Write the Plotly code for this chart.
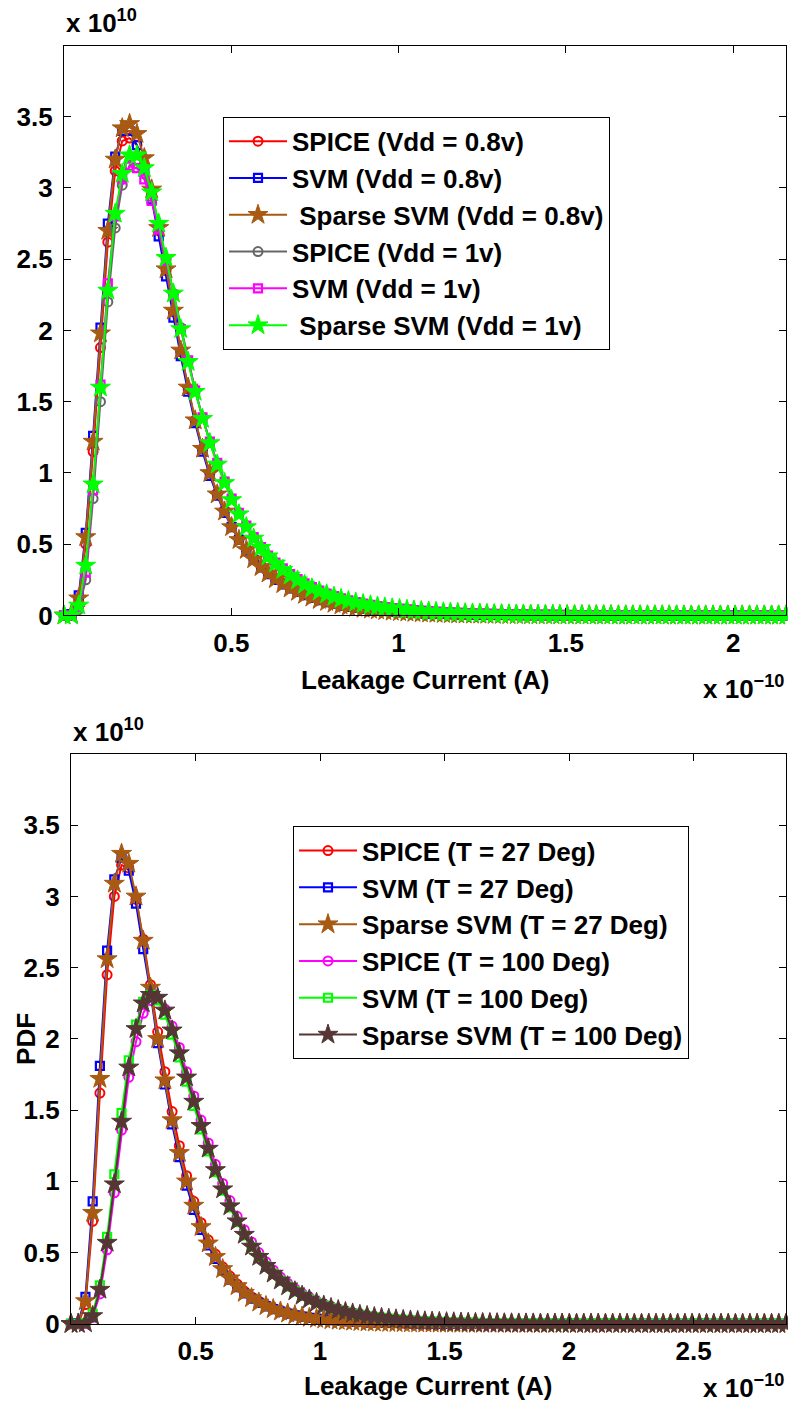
import plotly.graph_objects as go

W, H = 788, 1418

# ---------------- data (x in 1e-10 A, y in 1e10) ----------------
top_x = [0.000, 0.022, 0.044, 0.065, 0.087, 0.109, 0.131, 0.153, 0.174, 0.196,
         0.218, 0.240, 0.262, 0.283, 0.305, 0.327, 0.349, 0.371, 0.392, 0.414,
         0.436, 0.458, 0.480, 0.501, 0.523, 0.545, 0.567, 0.589, 0.610, 0.632,
         0.654, 0.676, 0.698, 0.719, 0.741, 0.763, 0.785, 0.807, 0.828, 0.850,
         0.872, 0.894, 0.916, 0.937, 0.959, 0.981, 1.003, 1.025, 1.046, 1.068,
         1.090, 1.112, 1.134, 1.155, 1.177, 1.199, 1.221, 1.243, 1.264, 1.286,
         1.308, 1.330, 1.352, 1.373, 1.395, 1.417, 1.439, 1.461, 1.482, 1.504,
         1.526, 1.548, 1.570, 1.591, 1.613, 1.635, 1.657, 1.679, 1.700, 1.722,
         1.744, 1.766, 1.788, 1.809, 1.831, 1.853, 1.875, 1.897, 1.918, 1.940,
         1.962, 1.984, 2.006, 2.027, 2.049, 2.071, 2.093, 2.115, 2.136, 2.158]

spice_08 = [0.000, 0.000, 0.100, 0.500, 1.150, 1.880, 2.620, 3.120, 3.330, 3.350,
            3.300, 3.160, 2.960, 2.700, 2.420, 2.130, 1.850, 1.590, 1.370, 1.170,
            1.000, 0.860, 0.740, 0.630, 0.540, 0.465, 0.400, 0.345, 0.300, 0.260,
            0.225, 0.195, 0.170, 0.148, 0.128, 0.111, 0.096, 0.083, 0.072, 0.063,
            0.055, 0.048, 0.042, 0.036, 0.032, 0.028, 0.024, 0.021, 0.018, 0.016,
            0.014, 0.012, 0.011, 0.010, 0.008, 0.007, 0.006, 0.006, 0.005, 0.004,
            0.004, 0.003, 0.003, 0.003, 0.002, 0.002, 0.002, 0.002, 0.001, 0.001,
            0.001, 0.001, 0.001, 0.001, 0.001, 0.001, 0.000, 0.000, 0.000, 0.000,
            0.000, 0.000, 0.000, 0.000, 0.000, 0.000, 0.000, 0.000, 0.000, 0.000,
            0.000, 0.000, 0.000, 0.000, 0.000, 0.000, 0.000, 0.000, 0.000, 0.000]
svm_08 = [0.000, 0.010, 0.140, 0.580, 1.260, 2.020, 2.750, 3.220, 3.400, 3.400,
          3.300, 3.130, 2.920, 2.660, 2.380, 2.090, 1.820, 1.570, 1.350, 1.150,
          0.980, 0.840, 0.720, 0.620, 0.530, 0.455, 0.390, 0.337, 0.290, 0.250,
          0.218, 0.190, 0.165, 0.143, 0.124, 0.108, 0.093, 0.081, 0.070, 0.061,
          0.053, 0.046, 0.040, 0.035, 0.031, 0.027, 0.023, 0.020, 0.018, 0.015,
          0.013, 0.012, 0.010, 0.009, 0.008, 0.007, 0.006, 0.005, 0.005, 0.004,
          0.004, 0.003, 0.003, 0.002, 0.002, 0.002, 0.002, 0.001, 0.001, 0.001,
          0.001, 0.001, 0.001, 0.001, 0.001, 0.000, 0.000, 0.000, 0.000, 0.000,
          0.000, 0.000, 0.000, 0.000, 0.000, 0.000, 0.000, 0.000, 0.000, 0.000,
          0.000, 0.000, 0.000, 0.000, 0.000, 0.000, 0.000, 0.000, 0.000, 0.000]
sparse_08 = [0.000, 0.010, 0.120, 0.550, 1.220, 1.980, 2.700, 3.200, 3.420, 3.450,
             3.380, 3.210, 2.990, 2.720, 2.430, 2.140, 1.860, 1.600, 1.370, 1.170,
             1.000, 0.850, 0.730, 0.620, 0.530, 0.460, 0.395, 0.340, 0.295, 0.255,
             0.220, 0.190, 0.166, 0.145, 0.126, 0.109, 0.095, 0.082, 0.071, 0.062,
             0.054, 0.047, 0.041, 0.036, 0.031, 0.027, 0.024, 0.021, 0.018, 0.016,
             0.014, 0.012, 0.011, 0.009, 0.008, 0.007, 0.006, 0.006, 0.005, 0.004,
             0.004, 0.003, 0.003, 0.003, 0.002, 0.002, 0.002, 0.002, 0.001, 0.001,
             0.001, 0.001, 0.001, 0.001, 0.001, 0.001, 0.000, 0.000, 0.000, 0.000,
             0.000, 0.000, 0.000, 0.000, 0.000, 0.000, 0.000, 0.000, 0.000, 0.000,
             0.000, 0.000, 0.000, 0.000, 0.000, 0.000, 0.000, 0.000, 0.000, 0.000]
spice_1 = [0.000, 0.000, 0.040, 0.250, 0.820, 1.500, 2.200, 2.720, 3.020, 3.160,
           3.170, 3.100, 2.940, 2.730, 2.500, 2.260, 2.020, 1.790, 1.580, 1.390,
           1.220, 1.070, 0.940, 0.820, 0.720, 0.630, 0.550, 0.480, 0.420, 0.370,
           0.325, 0.285, 0.250, 0.220, 0.194, 0.171, 0.151, 0.133, 0.118, 0.104,
           0.092, 0.082, 0.073, 0.065, 0.058, 0.051, 0.046, 0.041, 0.036, 0.032,
           0.029, 0.026, 0.023, 0.021, 0.019, 0.017, 0.015, 0.013, 0.012, 0.011,
           0.010, 0.009, 0.008, 0.007, 0.006, 0.006, 0.005, 0.005, 0.004, 0.004,
           0.003, 0.003, 0.003, 0.002, 0.002, 0.002, 0.002, 0.002, 0.001, 0.001,
           0.001, 0.001, 0.001, 0.001, 0.001, 0.001, 0.001, 0.000, 0.000, 0.000,
           0.000, 0.000, 0.000, 0.000, 0.000, 0.000, 0.000, 0.000, 0.000, 0.000]
svm_1 = [0.000, 0.000, 0.060, 0.300, 0.880, 1.620, 2.330, 2.800, 3.060, 3.150,
         3.140, 3.060, 2.910, 2.710, 2.490, 2.250, 2.010, 1.790, 1.580, 1.390,
         1.220, 1.070, 0.940, 0.820, 0.720, 0.630, 0.550, 0.480, 0.420, 0.370,
         0.330, 0.290, 0.255, 0.225, 0.198, 0.175, 0.154, 0.136, 0.120, 0.106,
         0.094, 0.083, 0.074, 0.066, 0.059, 0.052, 0.047, 0.042, 0.037, 0.033,
         0.030, 0.027, 0.024, 0.021, 0.019, 0.017, 0.015, 0.014, 0.012, 0.011,
         0.010, 0.009, 0.008, 0.007, 0.007, 0.006, 0.005, 0.005, 0.004, 0.004,
         0.003, 0.003, 0.003, 0.002, 0.002, 0.002, 0.002, 0.002, 0.001, 0.001,
         0.001, 0.001, 0.001, 0.001, 0.001, 0.001, 0.001, 0.000, 0.000, 0.000,
         0.000, 0.000, 0.000, 0.000, 0.000, 0.000, 0.000, 0.000, 0.000, 0.000]
sparse_1 = [0.000, 0.000, 0.070, 0.350, 0.920, 1.600, 2.280, 2.820, 3.100, 3.230,
            3.230, 3.140, 2.970, 2.750, 2.510, 2.260, 2.010, 1.780, 1.570, 1.380,
            1.210, 1.060, 0.930, 0.810, 0.710, 0.620, 0.540, 0.475, 0.415, 0.365,
            0.320, 0.280, 0.246, 0.216, 0.190, 0.168, 0.148, 0.131, 0.116, 0.102,
            0.090, 0.080, 0.071, 0.063, 0.056, 0.050, 0.045, 0.040, 0.035, 0.031,
            0.028, 0.025, 0.022, 0.020, 0.018, 0.016, 0.014, 0.013, 0.011, 0.010,
            0.009, 0.008, 0.007, 0.007, 0.006, 0.005, 0.005, 0.004, 0.004, 0.003,
            0.003, 0.003, 0.002, 0.002, 0.002, 0.002, 0.001, 0.001, 0.001, 0.001,
            0.001, 0.001, 0.001, 0.001, 0.001, 0.000, 0.000, 0.000, 0.000, 0.000,
            0.000, 0.000, 0.000, 0.000, 0.000, 0.000, 0.000, 0.000, 0.000, 0.000]

bot_x = [0.000, 0.029, 0.058, 0.087, 0.116, 0.145, 0.174, 0.203, 0.232, 0.261,
         0.290, 0.319, 0.348, 0.377, 0.406, 0.435, 0.464, 0.493, 0.522, 0.551,
         0.580, 0.609, 0.638, 0.667, 0.696, 0.725, 0.754, 0.783, 0.812, 0.841,
         0.870, 0.899, 0.928, 0.957, 0.986, 1.015, 1.044, 1.073, 1.102, 1.131,
         1.160, 1.189, 1.218, 1.247, 1.276, 1.305, 1.334, 1.363, 1.392, 1.421,
         1.450, 1.479, 1.508, 1.537, 1.566, 1.595, 1.624, 1.653, 1.682, 1.711,
         1.740, 1.769, 1.798, 1.827, 1.856, 1.885, 1.914, 1.943, 1.972, 2.001,
         2.030, 2.059, 2.088, 2.117, 2.146, 2.175, 2.204, 2.233, 2.262, 2.291,
         2.320, 2.349, 2.378, 2.407, 2.436, 2.465, 2.494, 2.523, 2.552, 2.581,
         2.610, 2.639, 2.668, 2.697, 2.726, 2.755, 2.784, 2.813, 2.842, 2.871]

spice_27 = [0.000, 0.000, 0.135, 0.720, 1.620, 2.450, 3.000, 3.220, 3.200, 2.980,
            2.700, 2.380, 2.050, 1.770, 1.490, 1.250, 1.040, 0.860, 0.710, 0.590,
            0.490, 0.400, 0.335, 0.280, 0.230, 0.190, 0.160, 0.133, 0.111, 0.093,
            0.078, 0.065, 0.055, 0.046, 0.039, 0.033, 0.028, 0.024, 0.020, 0.017,
            0.015, 0.012, 0.011, 0.009, 0.008, 0.007, 0.006, 0.005, 0.004, 0.004,
            0.003, 0.003, 0.002, 0.002, 0.002, 0.001, 0.001, 0.001, 0.001, 0.001,
            0.000, 0.000, 0.000, 0.000, 0.000, 0.000, 0.000, 0.000, 0.000, 0.000,
            0.000, 0.000, 0.000, 0.000, 0.000, 0.000, 0.000, 0.000, 0.000, 0.000,
            0.000, 0.000, 0.000, 0.000, 0.000, 0.000, 0.000, 0.000, 0.000, 0.000,
            0.000, 0.000, 0.000, 0.000, 0.000, 0.000, 0.000, 0.000, 0.000, 0.000]
svm_27 = [0.000, 0.005, 0.190, 0.860, 1.810, 2.620, 3.120, 3.270, 3.180, 2.950,
          2.630, 2.330, 1.970, 1.680, 1.400, 1.170, 0.970, 0.800, 0.660, 0.550,
          0.455, 0.375, 0.310, 0.258, 0.213, 0.177, 0.147, 0.123, 0.103, 0.086,
          0.072, 0.060, 0.050, 0.042, 0.036, 0.030, 0.026, 0.022, 0.019, 0.016,
          0.013, 0.011, 0.010, 0.008, 0.007, 0.006, 0.005, 0.004, 0.004, 0.003,
          0.003, 0.002, 0.002, 0.002, 0.001, 0.001, 0.001, 0.001, 0.001, 0.001,
          0.000, 0.000, 0.000, 0.000, 0.000, 0.000, 0.000, 0.000, 0.000, 0.000,
          0.000, 0.000, 0.000, 0.000, 0.000, 0.000, 0.000, 0.000, 0.000, 0.000,
          0.000, 0.000, 0.000, 0.000, 0.000, 0.000, 0.000, 0.000, 0.000, 0.000,
          0.000, 0.000, 0.000, 0.000, 0.000, 0.000, 0.000, 0.000, 0.000, 0.000]
sparse_27 = [0.000, 0.003, 0.160, 0.780, 1.720, 2.560, 3.090, 3.300, 3.230, 3.000,
             2.690, 2.360, 2.000, 1.710, 1.430, 1.200, 1.000, 0.830, 0.680, 0.565,
             0.470, 0.385, 0.320, 0.265, 0.218, 0.181, 0.150, 0.125, 0.104, 0.087,
             0.073, 0.061, 0.051, 0.043, 0.036, 0.031, 0.026, 0.022, 0.019, 0.016,
             0.013, 0.011, 0.010, 0.008, 0.007, 0.006, 0.005, 0.004, 0.004, 0.003,
             0.003, 0.002, 0.002, 0.002, 0.001, 0.001, 0.001, 0.001, 0.001, 0.001,
             0.000, 0.000, 0.000, 0.000, 0.000, 0.000, 0.000, 0.000, 0.000, 0.000,
             0.000, 0.000, 0.000, 0.000, 0.000, 0.000, 0.000, 0.000, 0.000, 0.000,
             0.000, 0.000, 0.000, 0.000, 0.000, 0.000, 0.000, 0.000, 0.000, 0.000,
             0.000, 0.000, 0.000, 0.000, 0.000, 0.000, 0.000, 0.000, 0.000, 0.000]
spice_100 = [0.000, 0.000, 0.003, 0.045, 0.210, 0.520, 0.920, 1.360, 1.730, 1.980,
             2.180, 2.270, 2.280, 2.210, 2.090, 1.940, 1.770, 1.600, 1.430, 1.270,
             1.120, 0.985, 0.865, 0.755, 0.660, 0.575, 0.500, 0.435, 0.378, 0.328,
             0.285, 0.247, 0.214, 0.186, 0.161, 0.140, 0.122, 0.106, 0.092, 0.080,
             0.070, 0.061, 0.053, 0.046, 0.040, 0.035, 0.031, 0.027, 0.024, 0.021,
             0.018, 0.016, 0.014, 0.012, 0.011, 0.009, 0.008, 0.007, 0.006, 0.006,
             0.005, 0.004, 0.004, 0.003, 0.003, 0.003, 0.002, 0.002, 0.002, 0.002,
             0.001, 0.001, 0.001, 0.001, 0.001, 0.001, 0.001, 0.001, 0.001, 0.001,
             0.000, 0.000, 0.000, 0.000, 0.000, 0.000, 0.000, 0.000, 0.000, 0.000,
             0.000, 0.000, 0.000, 0.000, 0.000, 0.000, 0.000, 0.000, 0.000, 0.000]
svm_100 = [0.000, 0.000, 0.006, 0.070, 0.270, 0.610, 1.050, 1.480, 1.850, 2.100,
           2.260, 2.310, 2.270, 2.170, 2.030, 1.870, 1.700, 1.530, 1.365, 1.210,
           1.065, 0.935, 0.818, 0.713, 0.620, 0.538, 0.467, 0.405, 0.351, 0.304,
           0.263, 0.228, 0.197, 0.171, 0.148, 0.128, 0.111, 0.097, 0.084, 0.073,
           0.063, 0.055, 0.048, 0.042, 0.036, 0.032, 0.028, 0.024, 0.021, 0.018,
           0.016, 0.014, 0.012, 0.011, 0.009, 0.008, 0.007, 0.006, 0.006, 0.005,
           0.004, 0.004, 0.003, 0.003, 0.003, 0.002, 0.002, 0.002, 0.002, 0.001,
           0.001, 0.001, 0.001, 0.001, 0.001, 0.001, 0.001, 0.000, 0.000, 0.000,
           0.000, 0.000, 0.000, 0.000, 0.000, 0.000, 0.000, 0.000, 0.000, 0.000,
           0.000, 0.000, 0.000, 0.000, 0.000, 0.000, 0.000, 0.000, 0.000, 0.000]
sparse_100 = [0.000, 0.000, 0.004, 0.055, 0.240, 0.570, 0.980, 1.420, 1.800, 2.070,
              2.250, 2.310, 2.290, 2.200, 2.060, 1.900, 1.730, 1.560, 1.390, 1.230,
              1.080, 0.945, 0.826, 0.720, 0.626, 0.543, 0.471, 0.408, 0.353, 0.305,
              0.264, 0.229, 0.198, 0.171, 0.148, 0.128, 0.111, 0.097, 0.084, 0.073,
              0.063, 0.055, 0.048, 0.042, 0.036, 0.032, 0.028, 0.024, 0.021, 0.018,
              0.016, 0.014, 0.012, 0.011, 0.009, 0.008, 0.007, 0.006, 0.006, 0.005,
              0.004, 0.004, 0.003, 0.003, 0.003, 0.002, 0.002, 0.002, 0.002, 0.001,
              0.001, 0.001, 0.001, 0.001, 0.001, 0.001, 0.001, 0.000, 0.000, 0.000,
              0.000, 0.000, 0.000, 0.000, 0.000, 0.000, 0.000, 0.000, 0.000, 0.000,
              0.000, 0.000, 0.000, 0.000, 0.000, 0.000, 0.000, 0.000, 0.000, 0.000]

top_names = ["SPICE (Vdd = 0.8v)", "SVM (Vdd = 0.8v)", " Sparse SVM (Vdd = 0.8v)",
             "SPICE (Vdd = 1v)", "SVM (Vdd = 1v)", " Sparse SVM (Vdd = 1v)"]
bot_names = ["SPICE (T = 27 Deg)", "SVM (T = 27 Deg)", "Sparse SVM (T = 27 Deg)",
             "SPICE (T = 100 Deg)", "SVM (T = 100 Deg)", "Sparse SVM (T = 100 Deg)"]
top_series = [spice_08, svm_08, sparse_08, spice_1, svm_1, sparse_1]
bot_series = [spice_27, svm_27, sparse_27, spice_100, svm_100, sparse_100]

x_ticks_top = [0.5, 1, 1.5, 2]
x_ticks_bot = [0.5, 1, 1.5, 2, 2.5]
y_ticks = [0, 0.5, 1, 1.5, 2, 2.5, 3, 3.5]

# ---------------- styles ----------------
BROWN = "#A85A12"
top_styles = [("#FF0000", "circle-open"), ("#0000FF", "square-open"), (BROWN, "star"),
              ("#666666", "circle-open"), ("#FF00FF", "square-open"), ("#00FF00", "star")]
bot_styles = [("#FF0000", "circle-open"), ("#0000FF", "square-open"), (BROWN, "star"),
              ("#FF00FF", "circle-open"), ("#00FF00", "square-open"), ("#553634", "star")]

FONT = "Liberation Sans"
FS = 26


def px_x(p):
    return p / W


def px_y(p):
    return 1 - p / H


# axes boxes in pixels: (left, top, right, bottom)
TOP_BOX = (64, 46, 786, 622)
BOT_BOX = (71, 762, 786, 1338)

fig = go.Figure()


def add_series(xs, ys_list, names, styles, xa, ya, legend):
    for ys, name, (col, sym) in zip(ys_list, names, styles):
        if sym == "star":
            marker = dict(symbol="star", size=15, color=col, line=dict(color=col, width=1))
        elif sym == "circle-open":
            marker = dict(symbol="circle-open", size=9, color=col, line=dict(color=col, width=2))
        else:
            marker = dict(symbol="square-open", size=8, color=col, line=dict(color=col, width=2.2))
        fig.add_trace(go.Scatter(
            x=xs, y=ys, name=name, mode="lines+markers",
            line=dict(color=col, width=2), marker=marker,
            xaxis=xa, yaxis=ya, legend=legend, legendgroup=name + legend,
            cliponaxis=False))


add_series(top_x, top_series, top_names, top_styles, "x", "y", "legend")
add_series(bot_x, bot_series, bot_names, bot_styles, "x2", "y2", "legend2")

tickfont = dict(family=FONT, size=FS, color="black", weight="bold")


def axis_common():
    return dict(showline=True, linecolor="black", linewidth=1.3, mirror="allticks",
                ticks="inside", ticklen=7, tickwidth=1, tickcolor="black",
                showgrid=False, zeroline=False, tickfont=tickfont)


legend_font = dict(family=FONT, size=FS, color="black", weight="bold")

fig.update_layout(
    width=W, height=H, margin=dict(l=0, r=0, t=0, b=0),
    paper_bgcolor="white", plot_bgcolor="white",
    xaxis=dict(domain=[px_x(TOP_BOX[0]), px_x(TOP_BOX[2])], range=[0, 2.158],
               tickvals=x_ticks_top, ticktext=[str(v) for v in x_ticks_top],
               anchor="y", ticklabelstandoff=4, **axis_common()),
    yaxis=dict(domain=[px_y(TOP_BOX[3]), px_y(TOP_BOX[1])], range=[0, 4],
               tickvals=y_ticks, ticktext=[("%g" % v) for v in y_ticks],
               anchor="x", ticklabelstandoff=5, **axis_common()),
    xaxis2=dict(domain=[px_x(BOT_BOX[0]), px_x(BOT_BOX[2])], range=[0, 2.871],
                tickvals=x_ticks_bot, ticktext=[str(v) for v in x_ticks_bot],
                anchor="y2", ticklabelstandoff=4, **axis_common()),
    yaxis2=dict(domain=[px_y(BOT_BOX[3]), px_y(BOT_BOX[1])], range=[0, 4],
                tickvals=y_ticks, ticktext=[("%g" % v) for v in y_ticks],
                anchor="x2", ticklabelstandoff=5, **axis_common()),
    legend=dict(x=px_x(223), y=px_y(118), xanchor="left", yanchor="top",
                bgcolor="white", bordercolor="black", borderwidth=1,
                font=legend_font, tracegroupgap=0, itemwidth=58),
    legend2=dict(x=px_x(293), y=px_y(835), xanchor="left", yanchor="top",
                 bgcolor="white", bordercolor="black", borderwidth=1,
                 font=legend_font, tracegroupgap=0, itemwidth=58),
    showlegend=True,
)

ann_font = dict(family=FONT, size=FS, color="black", weight="bold")
annotations = [
    # top axes
    dict(text="x 10<sup>10</sup>", x=px_x(64), y=px_y(40), xanchor="left", yanchor="bottom"),
    dict(text="Leakage Current (A)", x=px_x((TOP_BOX[0] + TOP_BOX[2]) / 2), y=px_y(687),
         xanchor="center", yanchor="middle"),
    dict(text="x 10<sup>\u221210</sup>", x=px_x(786), y=px_y(714), xanchor="right", yanchor="bottom"),
    # bottom axes
    dict(text="x 10<sup>10</sup>", x=px_x(71), y=px_y(757), xanchor="left", yanchor="bottom"),
    dict(text="Leakage Current (A)", x=px_x((BOT_BOX[0] + BOT_BOX[2]) / 2), y=px_y(1401),
         xanchor="center", yanchor="middle"),
    dict(text="x 10<sup>\u221210</sup>", x=px_x(786), y=px_y(1420), xanchor="right", yanchor="bottom"),
    dict(text="PDF", x=px_x(26), y=px_y(1050), xanchor="center", yanchor="middle", textangle=-90),
]
for a in annotations:
    a.update(xref="paper", yref="paper", showarrow=False, font=ann_font)
fig.update_layout(annotations=annotations)

fig.write_html("out.html")
